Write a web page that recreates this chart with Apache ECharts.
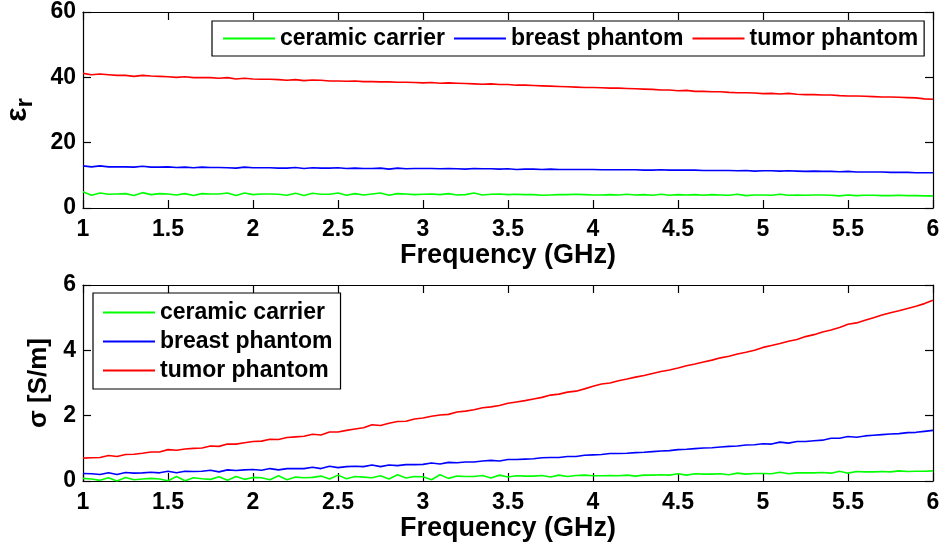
<!DOCTYPE html>
<html>
<head>
<meta charset="utf-8">
<title>Permittivity and conductivity of phantoms</title>
<script src="https://cdn.jsdelivr.net/npm/echarts@6/dist/echarts.min.js"></script>
<style>
  html, body { margin: 0; padding: 0; background: #ffffff; }
  #chart { width: 943px; height: 552px; }
</style>
</head>
<body>
<div id="chart"></div>
<script>
// Frequency sweep (GHz)
const freq = [
  1.00,1.05,1.10,1.15,1.20,1.25,1.30,1.35,1.40,1.45,
  1.50,1.55,1.60,1.65,1.70,1.75,1.80,1.85,1.90,1.95,
  2.00,2.05,2.10,2.15,2.20,2.25,2.30,2.35,2.40,2.45,
  2.50,2.55,2.60,2.65,2.70,2.75,2.80,2.85,2.90,2.95,
  3.00,3.05,3.10,3.15,3.20,3.25,3.30,3.35,3.40,3.45,
  3.50,3.55,3.60,3.65,3.70,3.75,3.80,3.85,3.90,3.95,
  4.00,4.05,4.10,4.15,4.20,4.25,4.30,4.35,4.40,4.45,
  4.50,4.55,4.60,4.65,4.70,4.75,4.80,4.85,4.90,4.95,
  5.00,5.05,5.10,5.15,5.20,5.25,5.30,5.35,5.40,5.45,
  5.50,5.55,5.60,5.65,5.70,5.75,5.80,5.85,5.90,5.95,
  6.00
];

// Relative permittivity
const epsCeramic = [
  5.0,3.9,4.6,4.2,4.3,4.4,3.8,4.7,4.1,4.4,
  4.3,4.0,4.4,3.8,4.4,4.3,4.3,4.6,3.8,4.6,
  4.1,4.3,4.3,4.2,3.9,4.5,3.8,4.5,4.2,4.2,
  4.6,3.9,4.4,4.0,4.3,4.6,3.9,4.4,4.3,4.1,
  4.2,4.3,4.1,4.4,4.0,4.1,4.6,4.0,4.2,4.3,
  4.1,4.2,4.1,4.1,3.9,4.0,4.1,4.1,4.2,4.1,
  4.0,4.0,4.1,4.0,4.2,4.0,4.1,3.9,4.2,3.9,
  4.1,4.0,4.1,3.9,4.1,4.0,3.9,4.2,3.8,4.0,
  4.0,3.9,4.2,3.9,4.0,3.9,4.0,4.0,3.9,3.7,
  4.0,3.8,3.9,3.9,3.8,3.8,3.9,3.8,3.8,3.7,
  3.7
];
const epsBreast = [
  12.9,12.6,12.9,12.6,12.6,12.6,12.5,12.8,12.5,12.5,
  12.6,12.4,12.5,12.3,12.5,12.4,12.4,12.3,12.2,12.5,
  12.3,12.3,12.3,12.2,12.2,12.4,12.1,12.3,12.2,12.2,
  12.3,12.1,12.2,12.1,12.1,12.2,11.9,12.2,12.0,12.1,
  12.1,12.1,12.0,12.1,12.0,11.9,12.1,12.0,12.0,11.9,
  12.0,11.8,11.9,11.9,11.8,11.9,11.8,11.8,11.8,11.8,
  11.8,11.7,11.7,11.7,11.7,11.7,11.6,11.6,11.7,11.6,
  11.6,11.6,11.6,11.5,11.5,11.5,11.5,11.4,11.5,11.3,
  11.4,11.4,11.3,11.4,11.3,11.2,11.3,11.2,11.2,11.1,
  11.2,11.0,11.0,11.0,11.0,10.9,10.9,10.9,10.8,10.8,
  10.8
];
const epsTumor = [
  41.2,40.8,41.0,40.8,40.6,40.6,40.3,40.6,40.4,40.3,
  40.2,40.0,40.2,39.9,39.9,39.9,39.7,39.9,39.5,39.7,
  39.5,39.4,39.4,39.3,39.1,39.3,39.0,39.2,39.1,38.9,
  38.9,38.8,38.9,38.7,38.7,38.6,38.6,38.5,38.5,38.4,
  38.3,38.4,38.2,38.3,38.2,38.1,38.0,37.9,38.0,37.8,
  37.8,37.6,37.6,37.5,37.4,37.3,37.2,37.1,37.0,36.9,
  36.9,36.8,36.7,36.7,36.6,36.5,36.4,36.3,36.1,36.1,
  35.9,36.0,35.7,35.7,35.6,35.6,35.4,35.3,35.3,35.2,
  35.0,35.1,34.9,35.1,34.8,34.7,34.7,34.6,34.6,34.4,
  34.3,34.3,34.2,34.1,34.0,34.0,33.9,33.8,33.7,33.4,
  33.3
];

// Conductivity (S/m)
const sigCeramic = [
  0.08,0.06,0.02,0.10,0.00,0.11,0.04,0.06,0.08,0.06,
  0.01,0.14,0.01,0.10,0.07,0.05,0.13,0.02,0.14,0.05,
  0.11,0.10,0.04,0.16,0.04,0.12,0.10,0.11,0.15,0.06,
  0.18,0.07,0.14,0.12,0.10,0.16,0.06,0.19,0.09,0.14,
  0.13,0.04,0.19,0.08,0.15,0.14,0.14,0.17,0.09,0.18,
  0.12,0.16,0.15,0.15,0.17,0.12,0.18,0.14,0.17,0.18,
  0.16,0.16,0.17,0.16,0.18,0.15,0.18,0.18,0.19,0.18,
  0.22,0.18,0.22,0.21,0.21,0.22,0.19,0.24,0.21,0.23,
  0.23,0.22,0.27,0.22,0.25,0.25,0.25,0.26,0.24,0.30,
  0.24,0.29,0.28,0.28,0.29,0.28,0.31,0.29,0.30,0.30,
  0.31
];
const sigBreast = [
  0.23,0.22,0.20,0.25,0.20,0.26,0.24,0.25,0.27,0.25,
  0.30,0.25,0.30,0.29,0.30,0.33,0.28,0.34,0.32,0.34,
  0.35,0.33,0.38,0.34,0.38,0.38,0.38,0.42,0.38,0.45,
  0.41,0.44,0.45,0.44,0.49,0.44,0.49,0.47,0.50,0.50,
  0.51,0.55,0.52,0.57,0.56,0.58,0.58,0.61,0.63,0.61,
  0.66,0.66,0.67,0.68,0.71,0.72,0.72,0.75,0.75,0.79,
  0.80,0.81,0.84,0.84,0.85,0.87,0.88,0.90,0.92,0.93,
  0.96,0.97,0.99,1.01,1.02,1.04,1.06,1.07,1.10,1.11,
  1.14,1.13,1.19,1.16,1.21,1.21,1.23,1.25,1.31,1.31,
  1.36,1.34,1.38,1.40,1.42,1.44,1.45,1.48,1.49,1.52,
  1.55
];
const sigTumor = [
  0.70,0.71,0.72,0.78,0.75,0.81,0.82,0.85,0.89,0.89,
  0.96,0.94,0.98,1.00,1.01,1.07,1.06,1.13,1.13,1.17,
  1.21,1.22,1.28,1.27,1.33,1.35,1.37,1.43,1.41,1.50,
  1.50,1.55,1.59,1.63,1.72,1.70,1.77,1.82,1.83,1.90,
  1.93,1.98,2.02,2.04,2.11,2.14,2.18,2.24,2.27,2.31,
  2.38,2.42,2.46,2.51,2.56,2.63,2.66,2.72,2.75,2.82,
  2.90,2.97,3.00,3.07,3.12,3.18,3.23,3.29,3.35,3.40,
  3.46,3.53,3.58,3.64,3.70,3.77,3.82,3.89,3.94,4.00,
  4.09,4.15,4.21,4.28,4.33,4.42,4.48,4.56,4.62,4.70,
  4.80,4.84,4.92,5.00,5.08,5.15,5.21,5.28,5.35,5.43,
  5.53
];

const seriesNames = ['ceramic carrier', 'breast phantom', 'tumor phantom'];
const seriesColors = ['#00ff00', '#0000ff', '#ff0000'];
const xTicks = { min: 1, max: 6, interval: 0.5 };
const epsTicks = { min: 0, max: 60, interval: 20 };
const sigTicks = { min: 0, max: 6, interval: 2 };

const FONT = '"Liberation Sans", Arial, Helvetica, sans-serif';

const pairs = ys => ys.map((y, i) => [freq[i], y]);

// One side of the boxed axes: every side carries inward ticks, only bottom/left get labels.
function boxAxis(gridIndex, position, ticks, extra) {
  return Object.assign({
    gridIndex: gridIndex,
    type: 'value',
    position: position,
    min: ticks.min,
    max: ticks.max,
    interval: ticks.interval,
    axisLine: { show: true, onZero: false, lineStyle: { color: '#000', width: 1.2 } },
    axisTick: { show: true, inside: true, length: 8, lineStyle: { color: '#000', width: 1.2 } },
    axisLabel: { show: false },
    splitLine: { show: false }
  }, extra || {});
}

const tickLabel = margin => ({
  show: true, color: '#000', fontFamily: FONT, fontWeight: 'bold', fontSize: 23, margin: margin
});

const xName = {
  name: 'Frequency (GHz)',
  nameLocation: 'middle',
  nameGap: 34,
  nameTextStyle: { color: '#000', fontFamily: FONT, fontWeight: 'bold', fontSize: 27 }
};

const lineSeries = (name, color, xi, yi, values) => ({
  name: name,
  type: 'line',
  xAxisIndex: xi,
  yAxisIndex: yi,
  data: pairs(values),
  showSymbol: false,
  symbol: 'none',
  smooth: false,
  lineStyle: { color: color, width: 1.6 },
  itemStyle: { color: color },
  emphasis: { disabled: true },
  animation: false
});

const legendText = { color: '#000', fontFamily: FONT, fontWeight: 'bold', fontSize: 23, lineHeight: 23 };
const legendBase = {
  data: seriesNames,
  icon: 'rect',
  itemWidth: 52,
  itemHeight: 2,
  backgroundColor: '#fff',
  borderColor: '#000',
  borderWidth: 1.2,
  borderRadius: 0,
  textStyle: legendText,
  selectedMode: false
};

const option = {
  backgroundColor: '#ffffff',
  animation: false,
  grid: [
    { left: 83, top: 12, width: 850, height: 196, containLabel: false, outerBoundsMode: 'none' },
    { left: 83, top: 285, width: 850, height: 196, containLabel: false, outerBoundsMode: 'none' }
  ],
  legend: [
    Object.assign({}, legendBase, {
      orient: 'horizontal',
      left: 212,
      top: 21,
      itemGap: 9,
      padding: [6, 6, 6, 11]
    }),
    Object.assign({}, legendBase, {
      orient: 'vertical',
      left: 93,
      top: 293,
      itemGap: 6,
      padding: [8, 8, 7, 10]
    })
  ],
  xAxis: [
    boxAxis(0, 'bottom', xTicks, Object.assign({ axisLabel: tickLabel(10) }, xName)),
    boxAxis(0, 'top', xTicks),
    boxAxis(1, 'bottom', xTicks, Object.assign({ axisLabel: tickLabel(10) }, xName)),
    boxAxis(1, 'top', xTicks)
  ],
  yAxis: [
    boxAxis(0, 'left', epsTicks, {
      axisLabel: tickLabel(7),
      name: '{e|ε}{r|r}',
      nameLocation: 'middle',
      nameRotate: 90,
      nameGap: 46,
      nameTextStyle: {
        color: '#000',
        rich: {
          e: { fontFamily: FONT, fontWeight: 'bold', fontSize: 30, color: '#000', verticalAlign: 'top', lineHeight: 34 },
          r: { fontFamily: FONT, fontWeight: 'bold', fontSize: 24, color: '#000', verticalAlign: 'bottom', lineHeight: 34, padding: [12, 0, 0, 0] }
        }
      }
    }),
    boxAxis(0, 'right', epsTicks),
    boxAxis(1, 'left', sigTicks, {
      axisLabel: tickLabel(7),
      name: 'σ [S/m]',
      nameLocation: 'middle',
      nameRotate: 90,
      nameGap: 31,
      nameTextStyle: { color: '#000', fontFamily: FONT, fontWeight: 'bold', fontSize: 26 }
    }),
    boxAxis(1, 'right', sigTicks)
  ],
  series: [
    lineSeries(seriesNames[0], seriesColors[0], 0, 0, epsCeramic),
    lineSeries(seriesNames[1], seriesColors[1], 0, 0, epsBreast),
    lineSeries(seriesNames[2], seriesColors[2], 0, 0, epsTumor),
    lineSeries(seriesNames[0], seriesColors[0], 2, 2, sigCeramic),
    lineSeries(seriesNames[1], seriesColors[1], 2, 2, sigBreast),
    lineSeries(seriesNames[2], seriesColors[2], 2, 2, sigTumor)
  ]
};

const chart = echarts.init(document.getElementById('chart'), null, { renderer: 'canvas' });
chart.setOption(option);
</script>
</body>
</html>
